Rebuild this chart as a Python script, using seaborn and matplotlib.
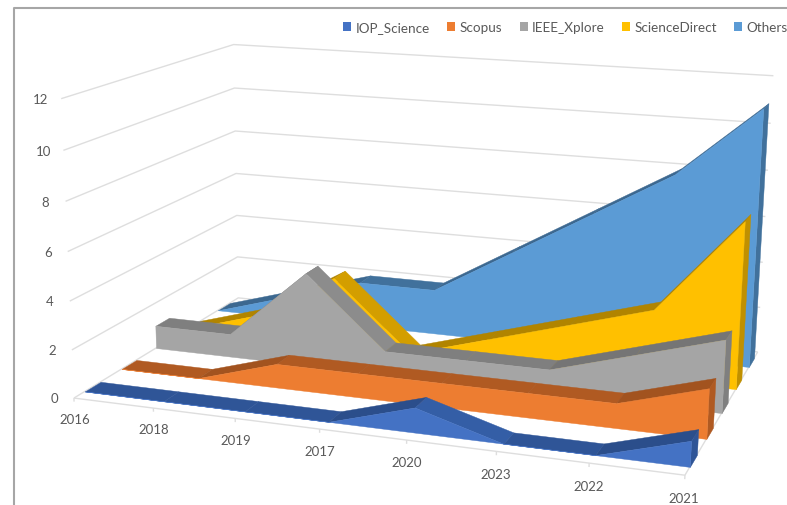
import numpy as np
import seaborn as sns
import matplotlib
matplotlib.use("Agg")
import matplotlib.pyplot as plt
from matplotlib.lines import Line2D
from matplotlib.patches import Patch
from mpl_toolkits.mplot3d import proj3d
from mpl_toolkits.mplot3d.art3d import Poly3DCollection, Line3DCollection

years = ["2016", "2018", "2019", "2017", "2020", "2023", "2022", "2021"]
series_names = ["IOP_Science", "Scopus", "IEEE_Xplore", "ScienceDirect", "Others"]
iop_science = [0, 0, 0, 0, 1, 0, 0, 1]
scopus = [0, 0, 1, 1, 1, 1, 1, 2]
ieee_xplore = [1, 1, 4, 1, 1, 1, 2, 3]
science_direct = [0, 1, 3, 0, 1, 2, 3, 7]
others = [0, 1, 2, 2, 4, 6, 8, 11]
z_ticks = [0, 2, 4, 6, 8, 10, 12]
front_colors = ["#4472C4", "#ED7D31", "#A5A5A5", "#FFC000", "#5B9BD5"]
top_colors = ["#2F5597", "#B05A22", "#7F7F7F", "#C09000", "#41719C"]

W, H = 787, 506
RIBBON = 0.42
GRID = "#dedede"
TEXT = "#595959"

sns.set_theme(style="white")
plt.rcParams["font.family"] = ["Lato", "DejaVu Sans"]

fig = plt.figure(figsize=(W / 100, H / 100), dpi=100)
# square 3d axes covering the whole canvas, so nothing gets shrunk
ax = fig.add_axes([0, (1 - W / H) / 2, 1, W / H], projection="3d")
ax.apply_aspect()
ax.set_xticks([])
ax.set_yticks([])
ax.set_zticks([])
ax.set_axis_off()
ax.computed_zorder = False
n = len(years)
depth = len(series_names)


def fit_camera():
    # Excel style off-centre perspective: solve the camera from the box corners
    corners = [(0, 0, 0), (n - 1, 0, 0), (n - 1, depth, 0), (0, depth, 0),
               (0, 0, 12), (0, depth, 12), (n - 1, depth, 12)]
    pixels = [(75, 398), (685, 477), (758, 352), (237, 300),
              (60, 100), (235, 45), (773, 77)]
    to_view = ax.transData.inverted()
    rows, rhs = [], []
    for (x, y, z), (px, py) in zip(corners, pixels):
        u, v = to_view.transform((px, H - py))
        rows.append([x, y, z, 1, 0, 0, 0, 0, -u * x, -u * y, -u * z])
        rows.append([0, 0, 0, 0, x, y, z, 1, -v * x, -v * y, -v * z])
        rhs += [u, v]
    p = np.linalg.lstsq(np.array(rows), np.array(rhs), rcond=None)[0]
    return np.array([p[:4], p[4:8], [0, 1, 0, 0], [p[8], p[9], p[10], 1]])


camera = fit_camera()
ax.get_proj = lambda: camera


def add_poly(verts, color, order):
    poly = Poly3DCollection([verts], facecolors=color, edgecolors=color, linewidths=0.3)
    poly.set_zorder(order)
    ax.add_collection3d(poly, autolim=False)


def add_label(x, y, z, label):
    u, v, _ = proj3d.proj_transform(x, y, z, camera)
    ax.text2D(u, v, label, transform=ax.transData, color=TEXT, fontsize=9.5,
              ha="center", va="center")


def shade(color, factor):
    return tuple(np.clip(np.array(color) * factor, 0, 1))


# walls and floor edges
segments = []
for z in z_ticks:
    segments.append([(0, 0, z), (0, depth, z), (n - 1, depth, z)])
    add_label(-0.25, 0, z - 0.08, str(z))
segments.append([(0, 0, 0), (n - 1, 0, 0), (n - 1, depth, 0)])
for i, year in enumerate(years):
    segments.append([(i, 0, 0), (i, 0, -0.15)])
    add_label(i, 0, -0.88, year)
grid = Line3DCollection(segments, colors=GRID, linewidths=1)
grid.set_zorder(1)
ax.add_collection3d(grid, autolim=False)

all_values = [iop_science, scopus, ieee_xplore, science_direct, others]
palette = sns.color_palette(front_colors)
dark = sns.color_palette(top_colors)

for s in range(depth - 1, -1, -1):
    vals = all_values[s]
    y0 = s + 0.28
    y1 = y0 + RIBBON
    base = 10 + (depth - s) * 10
    # top ribbon, one strip between each pair of years
    for i in range(n - 1):
        step = vals[i + 1] - vals[i]
        factor = 1.1 if step < 0 else (0.92 if step > 0 else 1)
        add_poly([(i, y0, vals[i]), (i + 1, y0, vals[i + 1]),
                  (i + 1, y1, vals[i + 1]), (i, y1, vals[i])], shade(dark[s], factor), base)
    # end cap on the right
    add_poly([(n - 1, y0, 0), (n - 1, y1, 0), (n - 1, y1, vals[-1]), (n - 1, y0, vals[-1])],
             dark[s], base + 1)
    # front face
    outline = [(i, y0, v) for i, v in enumerate(vals)]
    add_poly(outline + [(n - 1, y0, 0), (0, y0, 0)], palette[s], base + 2)

handles = [Patch(facecolor=c, edgecolor="none") for c in palette]
fig.legend(handles, series_names, loc="upper right", ncol=5, frameon=False, fontsize=9.7,
           bbox_to_anchor=(1.016, 0.98), handlelength=0.6, handleheight=0.6,
           handletextpad=0.3, columnspacing=1.3, labelcolor=TEXT)

# border of the pasted screenshot
fig.add_artist(Line2D([14 / W, 14 / W, 1], [0, 1 - 9 / H, 1 - 9 / H], color="#a6a6a6", lw=1.5))

fig.savefig("out.png", dpi=100)
